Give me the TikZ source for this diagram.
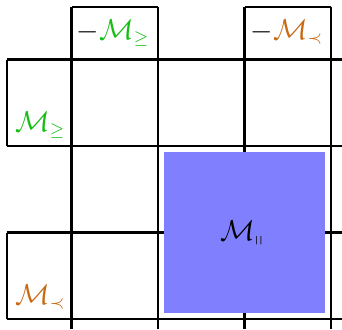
\documentclass[tikz,border=0pt]{standalone}
\usepackage{amsmath}
\usepackage{amssymb}
\usepackage{tikz}
\definecolor{geqgreen}{RGB}{20,190,20}
\definecolor{precorange}{RGB}{200,105,20}
\definecolor{parblue}{RGB}{128,128,255}
\tikzset{
  gridline/.style={line width=1.1pt},
  blocklabel/.style={inner sep=0pt, font=\fontsize{13.5}{16}\selectfont}}

\begin{document}
\begin{tikzpicture}[x=1.52cm,y=1.52cm]
  \useasboundingbox (-0.827,0.688) rectangle (3.127,-3.116);
    \coordinate (t1) at (0,0.61);
    \coordinate (t2) at (1,0.61);
    \coordinate (t3) at (2,0.61);
    \coordinate (t4) at (3,0.61);
    \coordinate (l1) at (-0.75,0);
    \coordinate (l2) at (-0.75,-1);
    \coordinate (l3) at (-0.75,-2);
    \coordinate (l4) at (-0.75,-3);
    \coordinate (b1) at (0,-3.116);
    \coordinate (b2) at (1,-3.116);
    \coordinate (b3) at (2,-3.116);
    \coordinate (b4) at (3,-3.116);
    \coordinate (r1) at (3.127,0);
    \coordinate (r2) at (3.127,-1);
    \coordinate (r3) at (3.127,-2);
    \coordinate (r4) at (3.127,-3);
  \draw [gridline] (t1) -- (b1);
  \draw [gridline] (t2) -- (b2);
  \draw [gridline] (t3) -- (b3);
  \draw [gridline] (t4) -- (b4);
  \draw [gridline] (l1) -- (r1);
  \draw [gridline] (l2) -- (r2);
  \draw [gridline] (l3) -- (r3);
  \draw [gridline] (l4) -- (r4);
  \draw [gridline] (t1) -- (t2);
  \draw [gridline] (t3) -- (t4);
  \draw [gridline] (l1) -- (l2);
  \draw [gridline] (l3) -- (l4);
      \fill [parblue] (1.07,-1.07) rectangle (2.93,-2.93);
  \node [blocklabel, anchor=base] (mtop1) at (0.48,0.237) {$-\textcolor{geqgreen}{\mathcal{M}_{\geq}}$};
  \node [blocklabel, anchor=base] (mtop2) at (2.49,0.237) {$-\textcolor{precorange}{\mathcal{M}_{\prec}}$};
  \node [blocklabel, anchor=base, text=geqgreen] (mleft1) at (-0.36,-0.827) {$\mathcal{M}_{\geq}$};
  \node [blocklabel, anchor=base, text=precorange] (mleft2) at (-0.36,-2.827) {$\mathcal{M}_{\prec}$};
  \node [blocklabel, anchor=base] (mpar) at (1.97,-2.087) {$\mathcal{M}_{\shortparallel}$};
\end{tikzpicture}
\end{document}
